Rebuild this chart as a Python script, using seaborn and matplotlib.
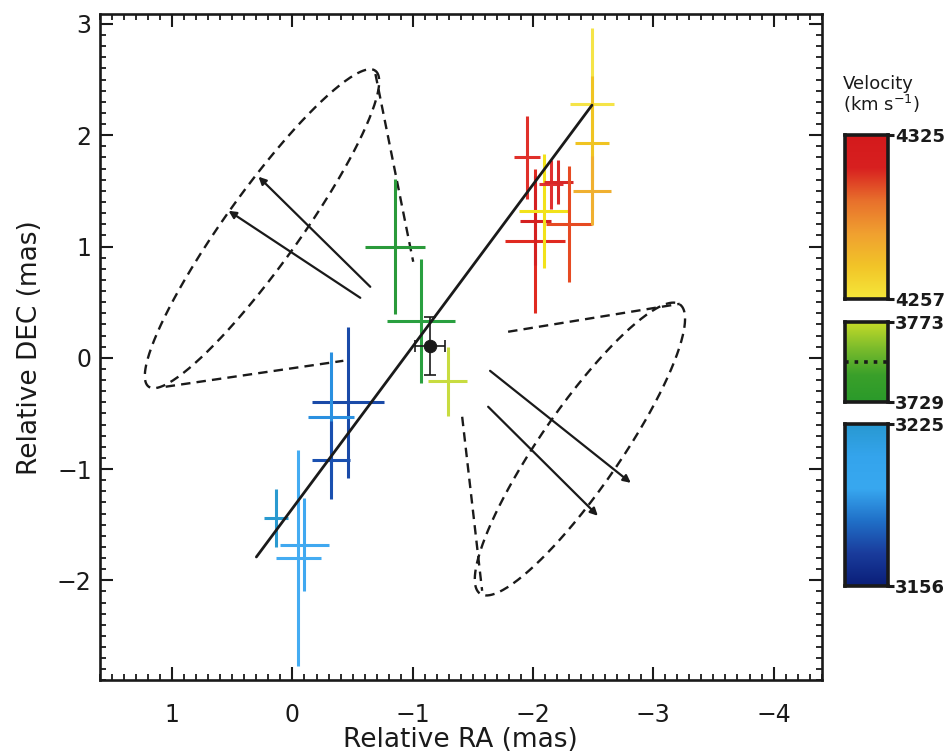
import numpy as np
import matplotlib
matplotlib.use("Agg")
import matplotlib.pyplot as plt
import seaborn as sns
import pandas as pd
from matplotlib.colors import LinearSegmentedColormap
from matplotlib.ticker import MultipleLocator, FixedLocator

sns.set_theme(style="white")
plt.rcParams['font.family'] = ['DejaVu Sans']
plt.rcParams.update({'text.color': 'k', 'axes.labelcolor': 'k',
                     'xtick.color': 'k', 'ytick.color': 'k'})

# ---- maser spots (RA, DEC offsets in mas) ----
ra      = [-1.95, -2.02, -2.02, -2.09, -2.15, -2.21, -2.30, -2.49, -2.49, -2.49,
           -0.855, -1.07, -1.29,
           -0.465, -0.32, -0.32, 0.133, -0.10, -0.05]
dec     = [1.80, 1.05, 1.23, 1.32, 1.56, 1.58, 1.20, 2.28, 1.93, 1.50,
           1.00, 0.33, -0.21,
           -0.40, -0.53, -0.92, -1.44, -1.68, -1.80]
ra_err  = [0.11, 0.25, 0.13, 0.21, 0.10, 0.12, 0.19, 0.18, 0.14, 0.16,
           0.25, 0.28, 0.16,
           0.30, 0.19, 0.16, 0.10, 0.20, 0.19]
dec_err = [0.375, 0.65, 0.40, 0.51, 0.22, 0.20, 0.52, 0.68, 0.60, 0.31,
           0.61, 0.56, 0.31,
           0.68, 0.58, 0.35, 0.26, 0.42, 0.97]
spot_colors = ['#e0302a', '#e02a20', '#d42020', '#f2e21a', '#e03030', '#d82828',
               '#e64a22', '#f5e448', '#f0c422', '#f0b030',
               '#2a9a3a', '#2aa040', '#c8dc40',
               '#1a4aa8', '#2a90e0', '#1a50b0', '#2a9ad0', '#40a8f0', '#44acf2']

# continuum core
core_ra, core_dec = [-1.14], [0.105]
core_ra_err, core_dec_err = [0.125], [0.26]

# linear fit to the disk
fit_ra  = [0.30, -2.49]
fit_dec = [-1.79, 2.27]

# ionisation cones: ellipse centre, major & minor semi-axis vectors
cone_center = [(0.253, 1.16), (-2.39, -0.82)]
cone_major  = [(-0.942, 1.42), (-0.83, 1.30)]
cone_minor  = [(-0.249, -0.194), (-0.274, -0.204)]
cone_edges  = [[(-0.69, 2.55), (-1.004, 0.863)], [(1.054, -0.26), (-0.423, -0.027)],
               [(-1.793, 0.234), (-3.22, 0.485)], [(-1.411, -0.53), (-1.577, -2.094)]]
arrow_tail  = [(-0.647, 0.638), (-0.564, 0.539), (-1.643, -0.117), (-1.627, -0.44)]
arrow_head  = [(0.282, 1.627), (0.531, 1.321), (-2.813, -1.124), (-2.539, -1.42)]

# colour bars
cbar_ranges = [(4257, 4325), (3729, 3773), (3156, 3225)]
cbar_colors = [['#f5e83a', '#f2c428', '#f0a030', '#e8702c', '#d82020', '#d41a1c'],
               ['#2a9a2a', '#3aa02a', '#7cbc2c', '#c8dc28'],
               ['#0a1e78', '#1a3c9c', '#2070c8', '#38a8f0', '#34a4ec', '#2898d0']]
systemic = 3751

fig = plt.figure(figsize=(9.46, 7.54), dpi=100)
ax = fig.add_axes([0.1057, 0.0975, 0.7629, 0.884])

# cones
t = np.linspace(0, 2 * np.pi, 300)
dash = (0, (4, 2.6))
for c, M, m in zip(cone_center, cone_major, cone_minor):
    ex = c[0] + M[0] * np.cos(t) + m[0] * np.sin(t)
    ey = c[1] + M[1] * np.cos(t) + m[1] * np.sin(t)
    ax.plot(ex, ey, color='k', lw=1.7, ls=dash)
for (p, q) in cone_edges:
    ax.plot([p[0], q[0]], [p[1], q[1]], color='k', lw=1.7, ls=dash)
for a0, a1 in zip(arrow_tail, arrow_head):
    ax.annotate('', xy=a1, xytext=a0,
                arrowprops=dict(arrowstyle='-|>', color='k', lw=1.6,
                                mutation_scale=11, shrinkA=0, shrinkB=0))

# maser spots
df = pd.DataFrame(dict(ra=ra, dec=dec, ra_err=ra_err, dec_err=dec_err, color=spot_colors))
order = list(range(10, 19)) + list(range(10))
for i in order:
    r = df.iloc[i]
    ax.errorbar(r.ra, r.dec, xerr=r.ra_err, yerr=r.dec_err, fmt='none',
                ecolor=r.color, elinewidth=2.2, capsize=0)

# fit line
sns.lineplot(x=fit_ra, y=fit_dec, ax=ax, color='k', lw=2.0, sort=False)

# core
ax.errorbar(core_ra, core_dec, xerr=core_ra_err, yerr=core_dec_err, fmt='none',
            ecolor='k', elinewidth=1.2, capsize=4, capthick=1.2)
sns.scatterplot(x=core_ra, y=core_dec, ax=ax, color='k', s=80, edgecolor='k', zorder=5)

ax.set_xlim(1.6, -4.4)
ax.set_ylim(-2.9, 3.09)
ax.xaxis.set_major_locator(FixedLocator([1, 0, -1, -2, -3, -4]))
ax.yaxis.set_major_locator(FixedLocator([-2, -1, 0, 1, 2, 3]))
ax.xaxis.set_minor_locator(MultipleLocator(0.1))
ax.yaxis.set_minor_locator(MultipleLocator(0.1))
ax.tick_params(which='both', direction='in', top=True, right=True,
               bottom=True, left=True, color='k')
ax.tick_params(which='major', length=9.5, width=1.5, labelsize=17, labelcolor='k')
ax.tick_params(which='minor', length=4.3, width=1.3)
ax.tick_params(axis='x', which='major', pad=16)
ax.tick_params(axis='y', which='major', pad=6)
for s in ax.spines.values():
    s.set_linewidth(1.9)
    s.set_color('k')
ax.set_xlabel('Relative RA (mas)', fontsize=19, labelpad=0, color='k')
ax.set_ylabel('Relative DEC (mas)', fontsize=19, labelpad=10, color='k')

# colour bars
cb_boxes = [[0.8932, 0.6034, 0.0455, 0.2175],
            [0.8932, 0.4664, 0.0455, 0.1069],
            [0.8932, 0.2228, 0.0455, 0.2149]]
grad = np.linspace(0, 1, 256).reshape(-1, 1)
for k, (box, (vmin, vmax), cols) in enumerate(zip(cb_boxes, cbar_ranges, cbar_colors)):
    cax = fig.add_axes(box)
    cmap = LinearSegmentedColormap.from_list(f'seg{k}', cols)
    cax.imshow(grad, cmap=cmap, origin='lower', aspect='auto',
               extent=[0, 1, vmin, vmax])
    cax.set_xlim(0, 1)
    cax.set_ylim(vmin, vmax)
    cax.set_xticks([])
    cax.yaxis.tick_right()
    cax.set_yticks([vmin, vmax])
    cax.set_yticklabels([str(vmin), str(vmax)], fontsize=13, fontweight='bold', color='k')
    cax.tick_params(axis='y', direction='out', length=4, width=2.2, pad=1,
                    right=True, left=False, color='k')
    for s in cax.spines.values():
        s.set_linewidth(2.6)
        s.set_color('k')
    if k == 1:
        cax.axhline(systemic, color='k', ls=':', lw=2.6)

fig.text(0.891, 0.874, 'Velocity\n(km s$^{-1}$)', fontsize=13, ha='left', va='center',
         linespacing=0.95, color='k')

fig.savefig('out.png', dpi=100, facecolor='white')
